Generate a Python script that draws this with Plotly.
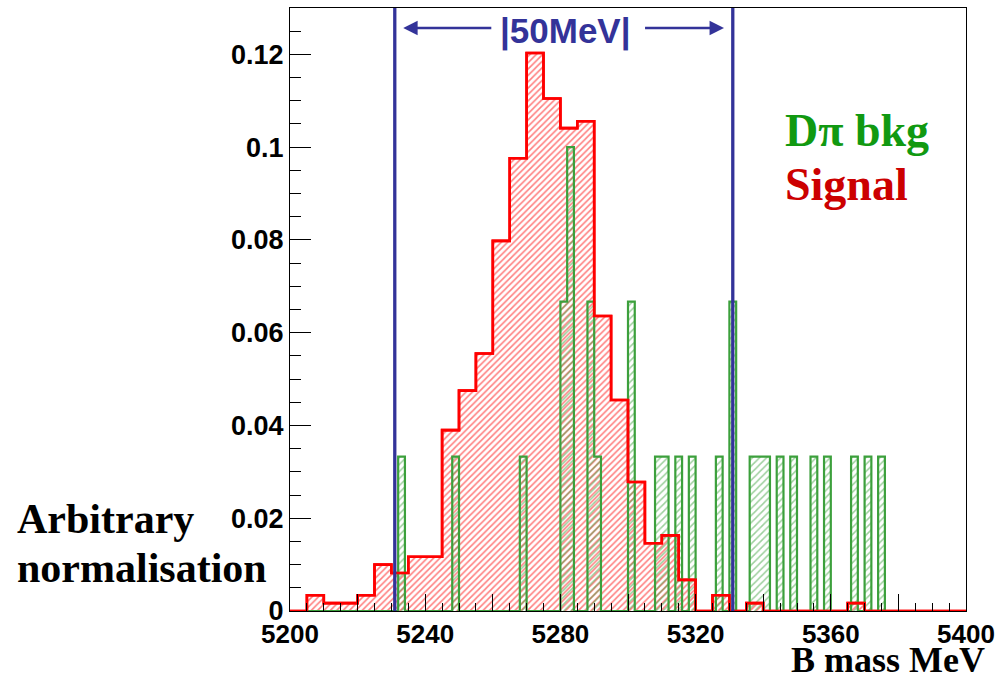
import numpy as np
import plotly.graph_objects as go

# Signal: 5 MeV bins from 5200 to 5400 MeV (normalised)
signal_lo_edge = 5200
signal_bin_width = 5
signal_values = [
    0.0, 0.0034, 0.0017, 0.0017, 0.0034, 0.0100, 0.0082, 0.0117, 0.0117, 0.0390,
    0.0475, 0.0555, 0.0798, 0.0976, 0.1203, 0.1105, 0.1041, 0.1056, 0.0636, 0.0455,
    0.0278, 0.0146, 0.0163, 0.0067, 0.0, 0.0034, 0.0, 0.0017, 0.0, 0.0,
    0.0, 0.0, 0.0, 0.0017, 0.0, 0.0, 0.0, 0.0, 0.0, 0.0,
]

# D-pi background: 2 MeV bins, only the filled ones listed (30 entries in total)
bkg_bin_width = 2
bkg_bin_lo = [5232, 5248, 5268, 5280, 5282, 5288, 5290, 5300, 5308, 5310, 5314, 5318,
              5326, 5330, 5336, 5338, 5340, 5344, 5348, 5354, 5358, 5366, 5370, 5374]
bkg_values = [0.0333, 0.0333, 0.0333, 0.0667, 0.1, 0.0667, 0.0333, 0.0667, 0.0333, 0.0333,
              0.0333, 0.0333, 0.0333, 0.0667, 0.0333, 0.0333, 0.0333, 0.0333, 0.0333,
              0.0333, 0.0333, 0.0333, 0.0333, 0.0333]

# Mass window
window_lo = 5231
window_hi = 5331

x_range = [5200, 5400]
y_range = [0, 0.13]
x_tickvals = list(range(5200, 5401, 20))
x_ticktext = [str(v) if (v - 5200) % 40 == 0 else "" for v in x_tickvals]
y_tickvals = [0, 0.02, 0.04, 0.06, 0.08, 0.1, 0.12]
y_ticktext = ["0", "0.02", "0.04", "0.06", "0.08", "0.1", "0.12"]

RED = "#ff0000"
GREEN = "#3ca03c"
BLUE = "#333399"

W, H = 1002, 678
ML, MR, MT, MB = 290, 33, 7, 67
PW, PH = W - ML - MR, H - MT - MB


def px(xp):
    return (xp - ML) / PW


def py(yp):
    return (H - MB - yp) / PH


def step_xy(lo, width, vals):
    vals = list(vals)
    edges = [lo + width * i for i in range(len(vals) + 1)]
    return edges, vals + [vals[-1]]


# signal histogram
sx, sy = step_xy(signal_lo_edge, signal_bin_width, signal_values)

# background histogram on its full binning
n_bkg = int((x_range[1] - x_range[0]) / bkg_bin_width)
bkg_full = np.zeros(n_bkg)
for lo, v in zip(bkg_bin_lo, bkg_values):
    bkg_full[int((lo - x_range[0]) / bkg_bin_width)] = v
bx, by = step_xy(x_range[0], bkg_bin_width, bkg_full)

fig = go.Figure()

fig.add_trace(go.Scatter(
    x=sx, y=sy, mode="lines", line=dict(shape="hv", color=RED, width=2.6),
    fill="tozeroy", fillcolor="rgba(0,0,0,0)",
    fillpattern=dict(shape="/", fgcolor=RED, bgcolor="rgba(0,0,0,0)", size=4.5, solidity=0.35),
    hoverinfo="skip", showlegend=False,
))
fig.add_trace(go.Scatter(
    x=bx, y=by, mode="lines", line=dict(shape="hv", color=GREEN, width=2.2),
    fill="tozeroy", fillcolor="rgba(0,0,0,0)",
    fillpattern=dict(shape="/", fgcolor=GREEN, bgcolor="rgba(0,0,0,0)", size=5, solidity=0.3),
    hoverinfo="skip", showlegend=False,
))
# signal outline again, on top of the background
fig.add_trace(go.Scatter(
    x=sx, y=sy, mode="lines", line=dict(shape="hv", color=RED, width=2.6),
    hoverinfo="skip", showlegend=False,
))

# window boundaries
for xw in (window_lo, window_hi):
    fig.add_trace(go.Scatter(
        x=[xw, xw], y=[0, y_range[1]], mode="lines",
        line=dict(color=BLUE, width=3.3), hoverinfo="skip", showlegend=False,
    ))

arrow_y = 0.1257
fig.add_annotation(x=window_lo + 2.5, y=arrow_y, ax=5260, ay=arrow_y, xref="x", yref="y",
                   axref="x", ayref="y", text="", showarrow=True, arrowhead=2,
                   arrowsize=1.2, arrowwidth=2.4, arrowcolor=BLUE)
fig.add_annotation(x=window_hi - 2.6, y=arrow_y, ax=5304.6, ay=arrow_y, xref="x", yref="y",
                   axref="x", ayref="y", text="", showarrow=True, arrowhead=2,
                   arrowsize=1.2, arrowwidth=2.4, arrowcolor=BLUE)

sans_bold = dict(family="Liberation Sans, Arial, sans-serif", weight="bold")
serif_bold = dict(family="Liberation Serif, Times New Roman, serif", weight="bold")

fig.add_annotation(x=px(566.5), y=py(30.5), xref="paper", yref="paper", text="|50MeV|",
                   showarrow=False, xanchor="center", yanchor="middle",
                   font=dict(size=35, color=BLUE, **sans_bold))
fig.add_annotation(x=px(785), y=py(130), xref="paper", yref="paper", text="Dπ bkg",
                   showarrow=False, xanchor="left", yanchor="middle",
                   font=dict(size=46, color="#119911", **serif_bold))
fig.add_annotation(x=px(785), y=py(184), xref="paper", yref="paper", text="Signal",
                   showarrow=False, xanchor="left", yanchor="middle",
                   font=dict(size=46, color="#cc0000", **serif_bold))
fig.add_annotation(x=px(14), y=py(519), xref="paper", yref="paper", text="Arbitrary",
                   showarrow=False, xanchor="left", yanchor="middle",
                   font=dict(size=42, color="black", **serif_bold))
fig.add_annotation(x=px(14), y=py(568), xref="paper", yref="paper", text="normalisation",
                   showarrow=False, xanchor="left", yanchor="middle",
                   font=dict(size=42, color="black", **serif_bold))
fig.add_annotation(x=px(990), y=py(660), xref="paper", yref="paper", text="B mass MeV",
                   showarrow=False, xanchor="right", yanchor="middle",
                   font=dict(size=36, color="black", **serif_bold))

fig.update_layout(
    width=W, height=H,
    margin=dict(l=ML, r=MR, t=MT, b=MB, pad=0),
    paper_bgcolor="white", plot_bgcolor="white",
    showlegend=False,
    xaxis=dict(
        range=x_range, showgrid=False, zeroline=False,
        showline=True, linecolor="black", linewidth=1, mirror=True,
        tickmode="array", tickvals=x_tickvals, ticktext=x_ticktext,
        ticks="inside", ticklen=17, tickwidth=1, tickcolor="black",
        minor=dict(tickmode="linear", tick0=5200, dtick=5, ticks="inside",
                   ticklen=8, tickwidth=1, tickcolor="black"),
        tickfont=dict(size=26, color="black", **sans_bold),
        layer="above traces",
    ),
    yaxis=dict(
        range=y_range, showgrid=False, zeroline=False,
        showline=True, linecolor="black", linewidth=1, mirror=True,
        tickmode="array", tickvals=y_tickvals, ticktext=y_ticktext,
        ticks="inside", ticklen=21, tickwidth=1, tickcolor="black",
        minor=dict(tickmode="linear", tick0=0, dtick=0.005, ticks="inside",
                   ticklen=11, tickwidth=1, tickcolor="black"),
        tickfont=dict(size=27, color="black", **sans_bold),
        layer="above traces",
    ),
)

fig.write_html("out.html")
